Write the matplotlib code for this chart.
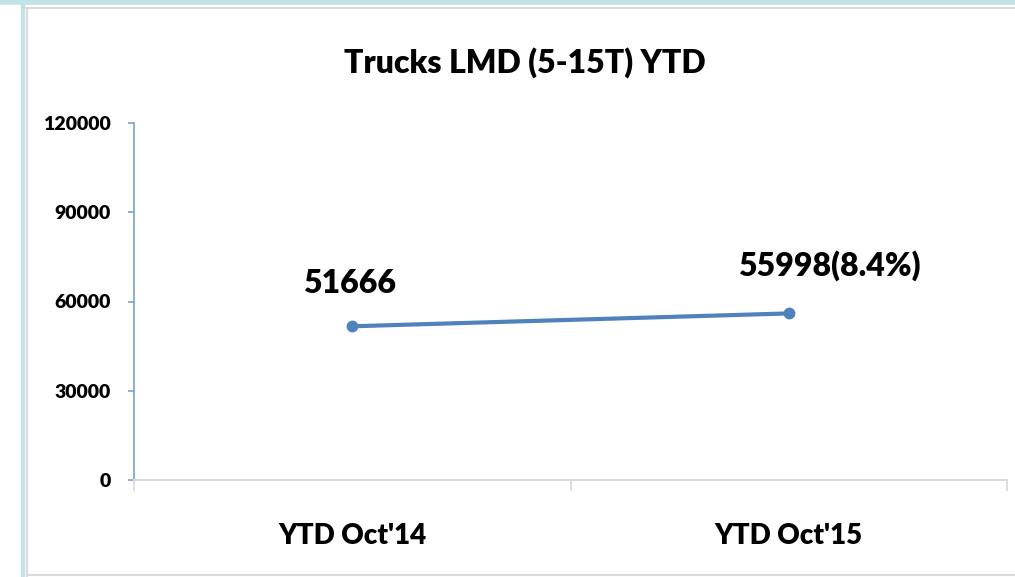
import matplotlib.pyplot as plt
from matplotlib.lines import Line2D
from matplotlib.ticker import FixedLocator

categories = ["YTD Oct'14", "YTD Oct'15"]
values = [51666, 55998]
point_labels = ["51666", "55998(8.4%)"]
yticks = [0, 30000, 60000, 90000, 120000]

FONT = "Lato"
WEIGHT = "heavy"
blue = "#4F81BD"

fig = plt.figure(figsize=(10.15, 5.77), dpi=100)
fig.patch.set_facecolor("white")

# outer frame like the original slide
W, H = 1015, 577
def fline(x0, y0, x1, y1, color, lw):
    fig.add_artist(Line2D([x0 / W, x1 / W], [1 - y0 / H, 1 - y1 / H],
                          color=color, lw=lw, transform=fig.transFigure))
fline(0, 2, W, 2, "#BFE3E6", 4)
fline(23, 0, 23, H, "#BFE3E6", 3)
fline(26, 8, W, 8, "#DADADA", 1.5)
fline(27, 8, 27, H, "#DADADA", 1.5)
fline(27, 575, W, 575, "#DADADA", 1.5)

ax = fig.add_axes([134 / W, 1 - 480 / H, (1007 - 134) / W, (480 - 123) / H])
x = list(range(len(categories)))
ax.plot(x, values, color=blue, lw=3, marker="o", ms=7.5, solid_capstyle="round")

ax.set_xlim(-0.5, len(categories) - 0.5)
ax.set_ylim(0, 120000)
ax.set_yticks(yticks)
ax.set_yticklabels([str(v) for v in yticks], fontfamily=FONT,
                   fontweight=WEIGHT, fontsize=14)
ax.set_xticks(x)
ax.set_xticklabels(categories, fontfamily=FONT, fontweight=WEIGHT, fontsize=20)
ax.xaxis.set_minor_locator(FixedLocator([-0.5, 0.5, 1.5]))
ax.tick_params(axis="x", which="major", length=0, pad=31)
ax.tick_params(axis="x", which="minor", length=8, color="#D9D9D9", width=1.2)
ax.tick_params(axis="y", length=4.5, color="#7F9FCF", width=1.2, pad=12.5)

for s in ["top", "right"]:
    ax.spines[s].set_visible(False)
ax.spines["left"].set_color("#7F9FCF")
ax.spines["left"].set_linewidth(1.2)
ax.spines["bottom"].set_color("#D9D9D9")
ax.spines["bottom"].set_linewidth(1.5)

offsets = [(-2, 24), (29, 27)]
for xi, v, lab, off in zip(x, values, point_labels, offsets):
    ax.annotate(lab, (xi, v), xytext=off, textcoords="offset points",
                ha="center", va="baseline", fontfamily=FONT,
                fontweight=WEIGHT, fontsize=23)

fig.text(525 / W, 1 - 73 / H, "Trucks LMD (5-15T) YTD", ha="center",
         va="baseline", fontfamily=FONT, fontweight=WEIGHT, fontsize=23)

fig.savefig("out.png", dpi=100)
